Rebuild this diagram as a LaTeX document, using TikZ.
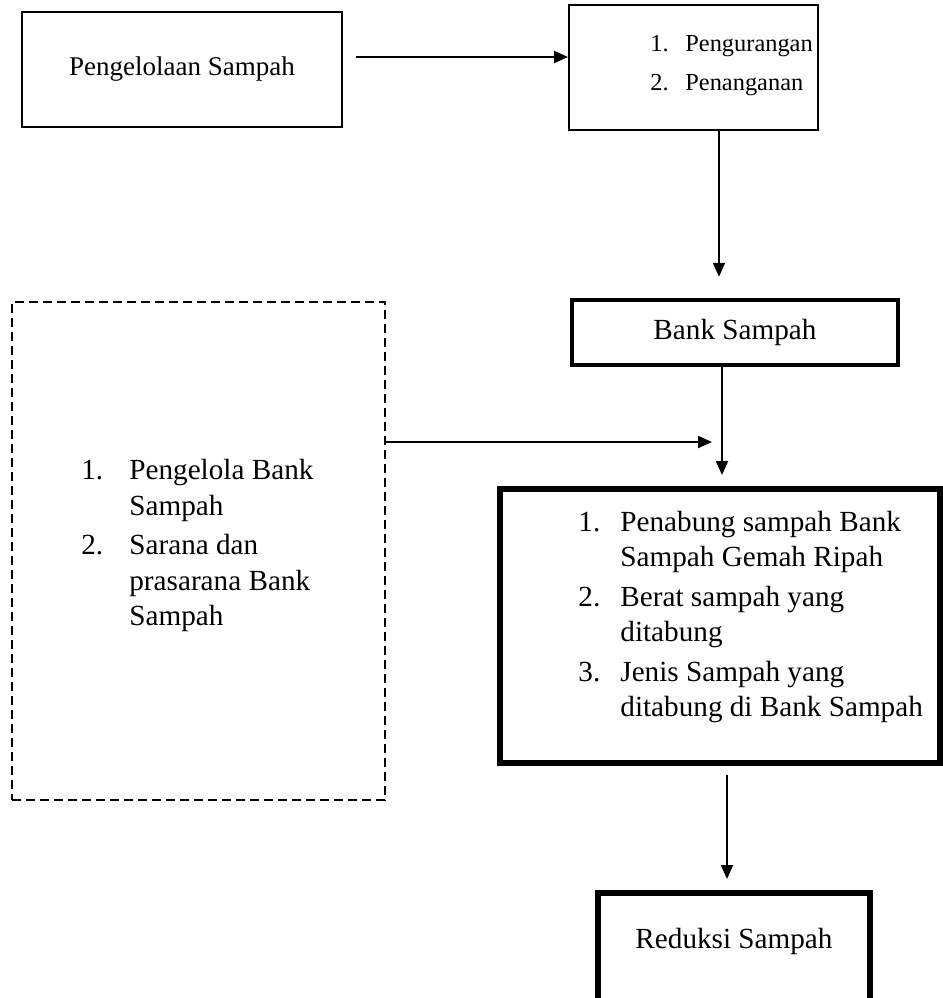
\documentclass[tikz,border=0pt]{standalone}
\usepackage{fontspec}
\setmainfont{Liberation Serif}
\usetikzlibrary{arrows.meta}
\tikzstyle{every node}=[inner sep=0pt,font=\fontsize{12.4pt}{17.75pt}\selectfont]
\tikzstyle{teksbesar}=[font=\fontsize{14.6pt}{17.75pt}\selectfont]
\tikzstyle{kotak}=[draw=black,line width=1pt,rectangle]
\tikzstyle{kotaktebal}=[draw=black,line width=3pt,rectangle]
\tikzstyle{kotakputus}=[draw=black,line width=1pt,rectangle,dash pattern=on 4.5pt off 2.5pt]
\tikzstyle{daftar}=[anchor=base west,align=left]
\tikzstyle{panah}=[line width=1pt,-{Triangle[length=7pt,width=6pt]}]
\newcommand{\butir}[2]{\begin{tabular}[t]{@{}p{#1}@{}l@{}}#2\end{tabular}}

\begin{document}
\begin{tikzpicture}[x=0.5pt,y=-0.5pt]
  \useasboundingbox (0,0) rectangle (943,998);

  \node[kotak,font=\fontsize{13.5pt}{17.75pt}\selectfont,minimum width=160pt,minimum height=57.5pt] (pengelolaan) at (182,69.5) {Pengelolaan Sampah};
  \node[kotak,minimum width=124.5pt,minimum height=62.5pt] (upaya) at (693.5,67.5) {};
  \node[daftar,font=\fontsize{12.2pt}{17.75pt}\selectfont] (upayateks) at (650,51) {\butir{17.5pt}{1. & Pengurangan\\[2pt] 2. & Penanganan}};

  \node[kotak,teksbesar,line width=2.25pt,minimum width=163pt,minimum height=32.5pt] (bank) at (735,332.5) {Bank Sampah};

  \node[kotakputus,minimum width=186.5pt,minimum height=249pt] (pendukung) at (198.5,551) {};
  \node[daftar,teksbesar] (pendukungteks) at (81,479.5) {\butir{24pt}{1. & Pengelola Bank\\ & Sampah\\[2pt] 2. & Sarana dan\\ & prasarana Bank\\ & Sampah}};

  \node[kotaktebal,minimum width=220pt,minimum height=137pt] (hasil) at (720,626) {};
  \node[daftar,teksbesar] (hasilteks) at (578,531) {\butir{21pt}{1. & Penabung sampah Bank\\ & Sampah Gemah Ripah\\[2pt] 2. & Berat sampah yang\\ & ditabung\\[2pt] 3. & Jenis Sampah yang\\ & ditabung di Bank Sampah}};

  \node[kotaktebal,minimum width=136pt,minimum height=73.5pt] (reduksi) at (734,966.5) {};
  \node[teksbesar] (reduksiteks) at (734,941) {Reduksi Sampah};

  \coordinate (ujung) at (712,442);

  \draw[panah,shorten <=6.5pt] ([yshift=6.25pt]pengelolaan.east) -- ([yshift=5.25pt]upaya.west);
  \draw[panah] ([xshift=12.75pt]upaya.south) -- ([xshift=-8pt,yshift=10.5pt]bank.north);
  \draw[panah] ([xshift=-6.5pt]bank.south) -- ([xshift=1pt,yshift=5.5pt]hasil.north);
  \draw[panah] ([yshift=54.5pt]pendukung.east) -- (ujung);
  \draw[panah] ([xshift=3.5pt,yshift=-4.5pt]hasil.south) -- ([xshift=-3.5pt,yshift=5.5pt]reduksi.north);
\end{tikzpicture}
\end{document}
